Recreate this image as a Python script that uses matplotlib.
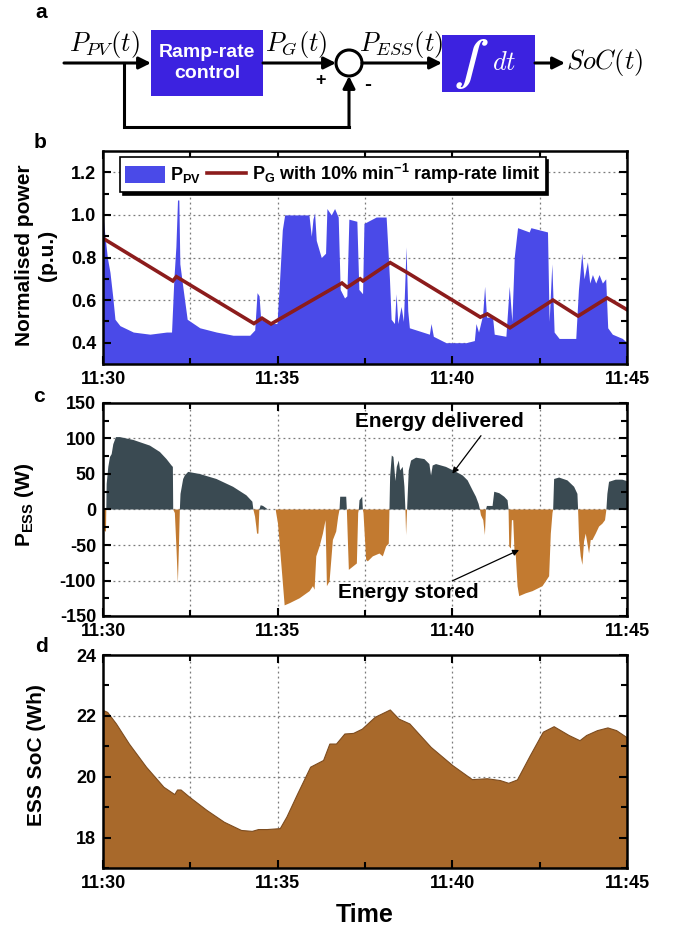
import numpy as np
import matplotlib
matplotlib.use("Agg")
import matplotlib.pyplot as plt
from matplotlib.patches import Rectangle, Circle, Patch
from matplotlib.lines import Line2D
from matplotlib.ticker import FixedLocator, FixedFormatter, FormatStrFormatter

plt.rcParams['font.family'] = ['Liberation Sans', 'DejaVu Sans']
plt.rcParams['font.weight'] = 'bold'
plt.rcParams['mathtext.fontset'] = 'custom'
plt.rcParams['mathtext.rm'] = 'Liberation Sans:bold'
plt.rcParams['mathtext.bf'] = 'Liberation Sans:bold'
plt.rcParams['mathtext.it'] = 'Liberation Sans:bold:italic'
plt.rcParams['mathtext.sf'] = 'Liberation Sans:bold'

# ---------------- data (time in minutes after 11:30) ----------------
xtick_pos = [0, 5, 10, 15]
xtick_labels = ["11:30", "11:35", "11:40", "11:45"]
xminor_pos = [2.5, 7.5, 12.5]

pv_t = [0.0, 0.01, 0.057, 0.124, 0.2, 0.276, 0.343, 0.486, 0.867, 1.343, 1.819, 1.962,
        2.029, 2.086, 2.133, 2.171, 2.2, 2.295, 2.41, 2.771, 3.248, 3.724, 4.2, 4.343,
        4.41, 4.467, 4.514, 4.77, 4.98, 5.057, 5.133, 5.2, 5.895, 5.962, 6.01, 6.057,
        6.105, 6.248, 6.371, 6.41, 6.533, 6.629, 6.733, 6.79, 6.914, 6.98, 7.038, 7.267,
        7.324, 7.43, 7.47, 7.82, 8.105, 8.152, 8.2, 8.248, 8.343, 8.39, 8.44, 8.533,
        8.6, 8.676, 8.724, 8.77, 9.057, 9.343, 9.39, 9.457, 9.82, 10.39, 10.63, 10.676,
        10.75, 10.867, 10.924, 10.98, 11.152, 11.2, 11.533, 11.629, 11.705, 11.771,
        11.867, 12.2, 12.248, 12.724, 12.771, 12.848, 12.914, 13.057, 13.533, 13.61,
        13.705, 13.771, 13.867, 13.933, 14.01, 14.105, 14.2, 14.295, 14.39, 14.448,
        14.58, 14.867, 15.0]
pv_v = [1.0, 0.98, 0.90, 0.80, 0.73, 0.62, 0.51, 0.48, 0.45, 0.44, 0.45, 0.45,
        0.70, 0.85, 1.07, 1.07, 0.77, 0.65, 0.51, 0.47, 0.45, 0.435, 0.435, 0.46,
        0.635, 0.62, 0.51, 0.49, 0.49, 0.70, 0.93, 1.0, 1.0, 0.90, 0.98, 1.01,
        0.88, 0.80, 0.82, 1.03, 1.0, 1.03, 0.99, 0.65, 0.61, 0.62, 0.98, 0.97,
        0.65, 0.63, 0.96, 0.99, 0.99, 0.85, 0.70, 0.51, 0.49, 0.63, 0.49, 0.57,
        0.50, 0.85, 0.55, 0.47, 0.455, 0.44, 0.49, 0.43, 0.40, 0.40, 0.41, 0.49,
        0.45, 0.53, 0.665, 0.52, 0.52, 0.44, 0.43, 0.665, 0.50, 0.80,
        0.94, 0.92, 0.94, 0.92, 0.50, 0.77, 0.45, 0.42, 0.42, 0.65,
        0.82, 0.70, 0.78, 0.68, 0.72, 0.68, 0.72, 0.68, 0.70, 0.47,
        0.44, 0.42, 0.40]

pg_t = [0.0, 2.0, 2.1, 4.32, 4.55, 4.81, 6.84, 6.99, 7.36, 7.44, 8.22, 8.70, 10.8,
        11.0, 11.65, 12.88, 13.6, 14.43, 15.0]
pg_v = [0.89, 0.69, 0.71, 0.49, 0.515, 0.488, 0.68, 0.66, 0.70, 0.69, 0.776, 0.73, 0.52,
        0.535, 0.47, 0.60, 0.525, 0.61, 0.555]

pess_t = [0.0, 0.07, 0.085, 0.105, 0.152, 0.2, 0.248, 0.295, 0.371, 0.486, 0.867, 1.343,
          1.629, 1.819, 1.962, 2.0, 2.01, 2.057, 2.105, 2.143, 2.171, 2.2, 2.219, 2.295,
          2.343, 2.438, 2.771, 3.248, 3.724, 4.105, 4.276, 4.305, 4.352, 4.39, 4.41,
          4.448, 4.476, 4.514, 4.581, 4.724, 4.943, 4.962, 5.01, 5.057, 5.133, 5.2,
          5.343, 5.629, 5.914, 6.01, 6.057, 6.105, 6.2, 6.295, 6.371, 6.41, 6.486,
          6.581, 6.676, 6.733, 6.771, 6.79, 6.962, 6.98, 7.038, 7.267, 7.305, 7.324,
          7.343, 7.42, 7.438, 7.457, 7.533, 7.581, 7.724, 7.914, 8.01, 8.105, 8.181,
          8.2, 8.219, 8.267, 8.314, 8.371, 8.41, 8.467, 8.505, 8.581, 8.629, 8.657,
          8.676, 8.705, 8.752, 8.819, 8.962, 9.2, 9.343, 9.39, 9.438, 9.533, 9.819,
          10.105, 10.295, 10.438, 10.581, 10.676, 10.752, 10.79, 10.819, 10.886,
          10.933, 10.962, 10.99, 11.152, 11.2, 11.343, 11.486, 11.581, 11.61, 11.629,
          11.676, 11.705, 11.743, 11.781, 11.819, 11.867, 11.914, 12.105, 12.295,
          12.581, 12.771, 12.819, 12.867, 12.886, 12.914, 13.057, 13.295, 13.486,
          13.581, 13.6, 13.629, 13.676, 13.724, 13.771, 13.819, 13.914, 13.962,
          14.01, 14.105, 14.2, 14.295, 14.371, 14.41, 14.438, 14.486, 14.676,
          14.867, 15.0]
pess_v = [-28, -31, -31, 36, 60, 74, 78, 92, 102, 102, 98, 90,
          81, 71, 62, 60, 0, -5, -57, -104, -57, 0, 22, 43,
          48, 53, 50, 43, 32, 20, 11, 0, -10, -25, -34,
          -34, 0, 6, 5, 0, 0, -6, -20, -48, -94, -135,
          -132, -125, -115, -108, -113, -66, -52, -34, -15, -108, -101,
          -43, -31, -10, 0, 18, 18, 0, -85, -76, -5, 0,
          13, 18, 0, -5, -71, -73, -66, -62, -66, -52, -48,
          0, 46, 76, 74, 40, 60, 69, 55, 60, 32, 0,
          -36, 0, 55, 69, 73, 71, 64, 48, 62, 64, 60,
          53, 48, 41, 27, 18, 8, 0, -8, -15,
          -36, 0, 5, 5, 25, 23, 18, 13, 0, -52,
          -55, -15, -15, -60, -66, -108, -122, -118, -115,
          -108, -94, -34, -5, 0, 43, 45, 41, 32,
          22, 0, -43, -66, -78, -45, -34, -62, -43,
          -43, -34, -24, -20, -15, 0, 22, 39, 42,
          42, 40]

soc_t = [0.0, 0.12, 0.37, 0.74, 1.23, 1.73, 2.04, 2.12, 2.22, 2.47, 2.96, 3.46, 3.95,
         4.26, 4.44, 4.69, 5.06, 5.25, 5.56, 5.93, 6.30, 6.48, 6.67, 6.91, 7.16, 7.41,
         7.78, 8.21, 8.46, 8.77, 9.38, 10.0, 10.56, 10.99, 11.36, 11.6, 11.85, 12.22,
         12.59, 12.9, 13.33, 13.64, 13.83, 14.14, 14.44, 14.69, 15.0]
soc_v = [22.19, 22.13, 21.75, 21.09, 20.33, 19.67, 19.43, 19.58, 19.58, 19.34, 18.91,
         18.52, 18.25, 18.22, 18.28, 18.28, 18.31, 18.69, 19.45, 20.33, 20.55, 21.09,
         21.09, 21.42, 21.44, 21.58, 21.97, 22.21, 21.91, 21.75, 20.98, 20.38, 19.92,
         19.95, 19.89, 19.80, 19.91, 20.71, 21.48, 21.66, 21.37, 21.20, 21.37, 21.53,
         21.62, 21.53, 21.29]

# ---------------- figure ----------------
W, H = 675, 934
fig = plt.figure(figsize=(W / 100, H / 100), dpi=100)

def px_axes(l, t, r, b):
    return fig.add_axes([l / W, 1 - b / H, (r - l) / W, (b - t) / H])

TICK_FS = 13
GRID_KW = dict(color='#7a7a7a', lw=0.9, ls=(0, (1.5, 2.5)), zorder=0.5)

def style(ax, ymaj, ymin, ylim, fmt):
    ax.set_xlim(0, 15)
    ax.set_ylim(*ylim)
    ax.xaxis.set_major_locator(FixedLocator(xtick_pos))
    ax.xaxis.set_major_formatter(FixedFormatter(xtick_labels))
    ax.xaxis.set_minor_locator(FixedLocator(xminor_pos))
    ax.yaxis.set_major_locator(FixedLocator(ymaj))
    ax.yaxis.set_minor_locator(FixedLocator(ymin))
    ax.yaxis.set_major_formatter(FormatStrFormatter(fmt))
    ax.tick_params(which='both', direction='in', top=True, right=True, width=1.5,
                   labelsize=TICK_FS)
    ax.tick_params(which='major', length=6, pad=5)
    ax.tick_params(which='minor', length=4)
    for sp in ax.spines.values():
        sp.set_linewidth(1.8)
    for x in xminor_pos + xtick_pos[1:-1]:
        ax.axvline(x, **GRID_KW)
    for y in ymaj:
        if ylim[0] < y < ylim[1]:
            ax.axhline(y, **GRID_KW)

# ---- panel a: block diagram ----
axa = fig.add_axes([0, 1 - 140 / H, 1, 140 / H])
axa.set_xlim(0, W)
axa.set_ylim(140, 0)
axa.axis('off')
BOX = '#3c22e0'
MFS = 19
arr = dict(arrowstyle='-|>', lw=2.2, color='k', mutation_scale=18, shrinkA=0, shrinkB=0)
yl = 63
axa.add_patch(Rectangle((151, 30), 112, 66, facecolor=BOX, edgecolor='none'))
axa.add_patch(Rectangle((442, 35), 93, 57, facecolor=BOX, edgecolor='none'))
axa.add_patch(Circle((349, yl), 13, facecolor='white', edgecolor='k', lw=2.2))
axa.annotate('', xy=(151, yl), xytext=(64, yl), arrowprops=arr)
axa.annotate('', xy=(336, yl), xytext=(263, yl), arrowprops=arr)
axa.annotate('', xy=(442, yl), xytext=(362, yl), arrowprops=arr)
axa.annotate('', xy=(565, yl), xytext=(535, yl), arrowprops=arr)
axa.plot([124, 124, 349], [yl, 127, 127], color='k', lw=2.2, solid_joinstyle='miter')
axa.annotate('', xy=(349, yl + 13), xytext=(349, 127.5), arrowprops=arr)
axa.text(69, 45, r'$P_{PV}(t)$', fontsize=MFS, math_fontfamily='cm', ha='left', va='center')
axa.text(265, 45, r'$P_{G}(t)$', fontsize=MFS, math_fontfamily='cm', ha='left', va='center')
axa.text(359, 45, r'$P_{ESS}(t)$', fontsize=MFS, math_fontfamily='cm', ha='left', va='center')
axa.text(566, yl, r'$SoC(t)$', fontsize=MFS, math_fontfamily='cm', ha='left', va='center')
axa.text(207, 63, 'Ramp-rate\ncontrol', color='white', fontsize=14, fontweight='bold',
         ha='center', va='center', linespacing=1.25)
axa.text(471, 64, r'$\int$', color='white', fontsize=32, math_fontfamily='stix',
         ha='center', va='center')
axa.text(504, 63, r'$dt$', color='white', fontsize=MFS, math_fontfamily='cm',
         ha='center', va='center')
axa.text(321, 80, '+', fontsize=13, fontweight='bold', ha='center', va='center')
axa.text(368, 85, '-', fontsize=15, fontweight='bold', ha='center', va='center')

# ---- panel b ----
axb = px_axes(103, 151, 627, 364)
axb.fill_between(pv_t, 0.3, pv_v, color='#4a4ae8', lw=0, zorder=1)
axb.plot(pg_t, pg_v, color='#8c1c1c', lw=2.6, zorder=2, solid_joinstyle='miter')
style(axb, [0.4, 0.6, 0.8, 1.0, 1.2], [0.5, 0.7, 0.9, 1.1], (0.3, 1.3), '%.1f')
handles = [Patch(facecolor='#4a4ae8', edgecolor='none'),
           Line2D([], [], color='#8c1c1c', lw=2.6)]
labels = [r'$\mathbf{P_{PV}}$', r'$\mathbf{P_G}$ with 10% min$^{\mathbf{-1}}$ ramp-rate limit']
leg = axb.legend(handles, labels, loc='upper left', bbox_to_anchor=(0.032, 0.972),
                 borderaxespad=0, ncol=2, fontsize=13, frameon=True, fancybox=False,
                 edgecolor='black', framealpha=1,
                 shadow={'color': 'black', 'alpha': 1},
                 handlelength=2.2, handleheight=1.1, handletextpad=0.3,
                 columnspacing=0.3, borderpad=0.3)
leg.get_frame().set_linewidth(1.2)

# ---- panel c ----
axc = px_axes(103, 403, 627, 616)
pt = np.array(pess_t, dtype=float)
pvv = np.array(pess_v, dtype=float)
axc.fill_between(pt, 0, pvv, where=pvv >= 0, interpolate=True, color='#3a4a52',
                 lw=0, zorder=1)
axc.fill_between(pt, 0, pvv, where=pvv <= 0, interpolate=True, color='#c27a30',
                 lw=0, zorder=1)
style(axc, [-150, -100, -50, 0, 50, 100, 150], [-125, -75, -25, 25, 75, 125],
      (-150, 150), '%d')
ann_arrow = dict(arrowstyle='-|>', lw=0.9, color='k', mutation_scale=9,
                 shrinkA=0, shrinkB=0)
axc.text(9.63, 124, 'Energy delivered', fontsize=15, fontweight='bold',
         ha='center', va='center', zorder=5)
axc.annotate('', xy=(10.0, 50.5), xytext=(10.82, 104), arrowprops=ann_arrow)
axc.annotate('', xy=(11.91, -57), xytext=(10.0, -100.5), arrowprops=ann_arrow)
axc.text(8.74, -117, 'Energy stored', fontsize=15, fontweight='bold',
         ha='center', va='center', zorder=5)

# ---- panel d ----
axd = px_axes(103, 655, 627, 868)
axd.fill_between(soc_t, 17, soc_v, facecolor='#a8692b', edgecolor='#7d4c1f', lw=0.8,
                 zorder=1)
style(axd, [18, 20, 22, 24], [17, 19, 21, 23], (17, 24), '%d')

# ---- labels ----
fig.text(36 / W, 1 - 255 / H, 'Normalised power\n(p.u.)', rotation=90, ha='center',
         va='center', fontsize=15, fontweight='bold', multialignment='center',
         linespacing=1.3)
fig.text(25 / W, 1 - 505 / H, r'$\mathbf{P_{ESS}}$ (W)', rotation=90, ha='center',
         va='center', fontsize=15, fontweight='bold')
fig.text(36 / W, 1 - 755 / H, 'ESS SoC (Wh)', rotation=90, ha='center', va='center',
         fontsize=15, fontweight='bold')
fig.text(365 / W, 1 - 915 / H, 'Time', ha='center', va='center', fontsize=18,
         fontweight='bold')
for lab, (x, y) in zip('abcd', [(41, 12), (40, 142), (39, 396), (42, 647)]):
    fig.text(x / W, 1 - y / H, lab, ha='center', va='center', fontsize=15,
             fontweight='bold')

fig.savefig('out.png', dpi=100)
